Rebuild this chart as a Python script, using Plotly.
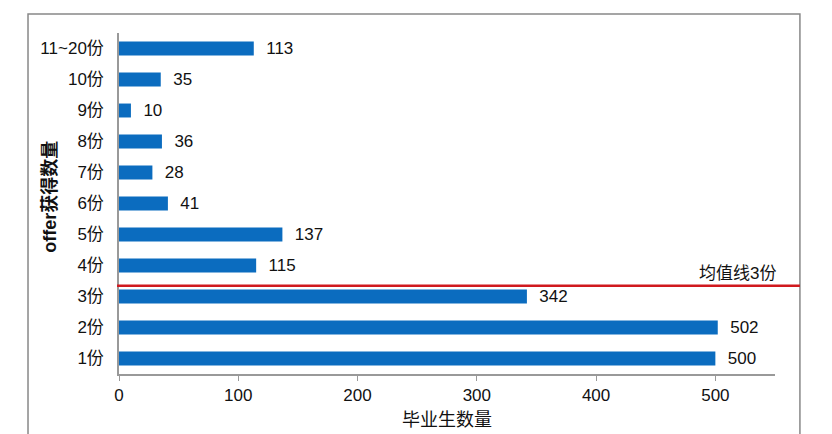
import plotly.graph_objects as go

categories = ["1份", "2份", "3份", "4份", "5份", "6份", "7份", "8份", "9份", "10份", "11~20份"]
graduates = [500, 502, 342, 115, 137, 41, 28, 36, 10, 35, 113]
mean_line_pos = 2.35
mean_label = "均值线3份"

font_family = "Liberation Sans, Arial, Noto Sans CJK SC, sans-serif"

fig = go.Figure()
fig.add_trace(go.Bar(
    y=categories,
    x=graduates,
    orientation="h",
    marker=dict(color="#0B6CBF", line=dict(width=0)),
    texttemplate="  %{x}",
    textposition="outside",
    constraintext="none",
    textfont=dict(size=17, color="#111"),
    cliponaxis=False,
))

# outer chart border
fig.add_shape(type="rect", xref="paper", yref="paper",
              x0=-0.1387, x1=1.038, y0=-0.25, y1=1.0557,
              line=dict(color="#888", width=1.5), layer="below")

# mean line
fig.add_shape(type="line", xref="paper", yref="y",
              x0=-0.003, x1=1.038, y0=mean_line_pos, y1=mean_line_pos,
              line=dict(color="#D0191E", width=2.5))
fig.add_annotation(xref="paper", yref="y", x=1.004, y=mean_line_pos,
                   text=mean_label, showarrow=False,
                   xanchor="right", yanchor="bottom", yshift=1,
                   font=dict(size=17, color="#111"))

# axis titles
fig.add_annotation(xref="paper", yref="paper", x=0.5, y=-0.135,
                   text="毕业生数量", showarrow=False,
                   xanchor="center", yanchor="middle",
                   font=dict(size=18, color="#111"))
fig.add_annotation(xref="paper", yref="paper", x=-0.105, y=0.52,
                   text="<b>offer获得数量</b>", showarrow=False, textangle=-90,
                   xanchor="center", yanchor="middle",
                   font=dict(size=18, color="#111"))

fig.update_layout(
    width=824, height=426,
    margin=dict(l=111, r=57, t=25, b=60),
    plot_bgcolor="white", paper_bgcolor="white",
    font=dict(family=font_family, size=17, color="#111"),
    showlegend=False,
    bargap=0.55,
)
fig.update_xaxes(
    range=[0, 550], tickvals=[0, 100, 200, 300, 400, 500],
    showgrid=False, zeroline=False, automargin=False,
    showline=True, linecolor="#999", linewidth=1.5,
    ticks="outside", ticklen=5, tickcolor="#999",
    tickfont=dict(size=17),
)
fig.update_yaxes(
    range=[-0.5, 10.5],
    showgrid=False, zeroline=False, automargin=False,
    showline=True, linecolor="#999", linewidth=1.5,
    ticks="", ticklabelstandoff=10,
    tickfont=dict(size=17),
)

fig.write_html("out.html")
